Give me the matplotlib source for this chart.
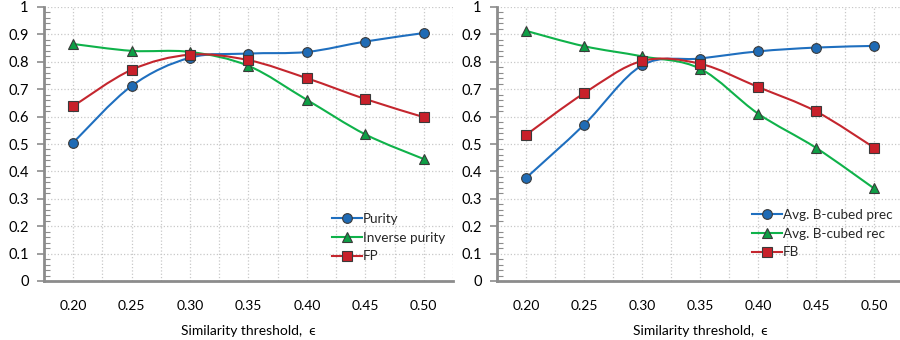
import numpy as np
import matplotlib.pyplot as plt
from matplotlib.path import Path
from matplotlib.patches import PathPatch
from matplotlib.lines import Line2D

thresholds = ['0.20', '0.25', '0.30', '0.35', '0.40', '0.45', '0.50']

purity = [0.505, 0.712, 0.815, 0.830, 0.836, 0.874, 0.905]
inverse_purity = [0.865, 0.840, 0.836, 0.785, 0.661, 0.535, 0.445]
fp = [0.638, 0.771, 0.826, 0.806, 0.740, 0.664, 0.598]

bcubed_prec = [0.376, 0.570, 0.787, 0.812, 0.838, 0.852, 0.858]
bcubed_rec = [0.913, 0.857, 0.820, 0.775, 0.611, 0.486, 0.338]
fb = [0.533, 0.685, 0.803, 0.793, 0.708, 0.619, 0.487]

BLUE = '#1f6fbf'
GREEN = '#0fb24a'
RED = '#c4262e'
MFACE = {'o': '#1f6bb5', '^': '#0e9e45', 's': '#c8202a'}

plt.rcParams['font.family'] = ['Lato', 'DejaVu Sans']
plt.rcParams['font.size'] = 9.5
plt.rcParams['text.color'] = '#262626'


def smooth_line(ax, x, y, color):
    # Excel-style smoothed line (cubic bezier through the points)
    x = np.asarray(x, float)
    y = np.asarray(y, float)
    n = len(x)
    verts = [(x[0], y[0])]
    codes = [Path.MOVETO]
    for i in range(n - 1):
        x0, y0 = (x[i - 1], y[i - 1]) if i > 0 else (x[i], y[i])
        x3, y3 = (x[i + 2], y[i + 2]) if i + 2 < n else (x[i + 1], y[i + 1])
        c1 = (x[i] + (x[i + 1] - x0) / 6, y[i] + (y[i + 1] - y0) / 6)
        c2 = (x[i + 1] - (x3 - x[i]) / 6, y[i + 1] - (y3 - y[i]) / 6)
        verts += [c1, c2, (x[i + 1], y[i + 1])]
        codes += [Path.CURVE4] * 3
    ax.add_patch(PathPatch(Path(verts, codes), fill=False, edgecolor=color,
                           lw=1.5, zorder=3))


def panel(ax, series):
    xs = np.arange(len(thresholds))
    handles = []
    for vals, label, color, marker in series:
        smooth_line(ax, xs, vals, color)
        ms = 7.5 if marker == '^' else 7
        ax.plot(xs, vals, ls='none', marker=marker, ms=ms, mfc=MFACE[marker],
                mec='#3a3a3a', mew=0.8, zorder=4)
        handles.append(Line2D([], [], color=color, lw=1.5, marker=marker, ms=ms,
                              mfc=MFACE[marker], mec='#3a3a3a', mew=0.8,
                              label=label))
    ax.set_xlim(-0.5, len(thresholds) - 0.5)
    ax.set_ylim(0, 1)
    ax.set_xticks(xs)
    ax.set_xticklabels(thresholds)
    ax.set_yticks(np.arange(0, 1.01, 0.1))
    ax.set_yticklabels(['0'] + ['%.1f' % v for v in np.arange(0.1, 0.95, 0.1)] + ['1'])
    ax.set_yticks(np.arange(0, 1.001, 0.02), minor=True)
    ax.set_xticks(np.arange(-0.5, len(thresholds), 0.5), minor=True)
    ax.grid(True, which='major', color='#c8c8c8', ls=':', lw=0.9)
    ax.grid(True, which='minor', axis='x', color='#c8c8c8', ls=':', lw=0.9)
    ax.tick_params(axis='y', which='major', length=5, width=1.2, color='#8c8c8c',
                   labelsize=10.5, pad=6, direction='out')
    ax.tick_params(axis='y', which='minor', length=4, width=0.8, color='#8c8c8c',
                   direction='in')
    ax.tick_params(axis='x', which='both', length=0, labelsize=10, pad=14)
    for s in ['top', 'right']:
        ax.spines[s].set_visible(False)
    for s in ['left', 'bottom']:
        ax.spines[s].set_color('#8c8c8c')
        ax.spines[s].set_linewidth(2)
    ax.set_xlabel('Similarity threshold,  \u03f5', fontsize=10, labelpad=9)
    return handles


fig = plt.figure(figsize=(9, 3.4), dpi=100)
ax1 = fig.add_axes([44 / 900, 59 / 340, 409 / 900, 274 / 340])
ax2 = fig.add_axes([497 / 900, 59 / 340, 406 / 900, 274 / 340])

h1 = panel(ax1, [(purity, 'Purity', BLUE, 'o'),
                 (inverse_purity, 'Inverse purity', GREEN, '^'),
                 (fp, 'FP', RED, 's')])
h2 = panel(ax2, [(bcubed_prec, 'Avg. B-cubed prec', BLUE, 'o'),
                 (bcubed_rec, 'Avg. B-cubed rec', GREEN, '^'),
                 (fb, 'FB', RED, 's')])

leg_kw = dict(frameon=False, fontsize=9.7, handlelength=2.2, handletextpad=0.1,
              labelspacing=0.5, borderaxespad=0, borderpad=0)
ax1.legend(handles=h1, loc='upper left', bbox_to_anchor=(288 / 409, 1 - 206 / 274), **leg_kw)
ax2.legend(handles=h2, loc='upper left', bbox_to_anchor=(255 / 406, 1 - 202 / 274), **leg_kw)

fig.savefig('out.png', dpi=100)
